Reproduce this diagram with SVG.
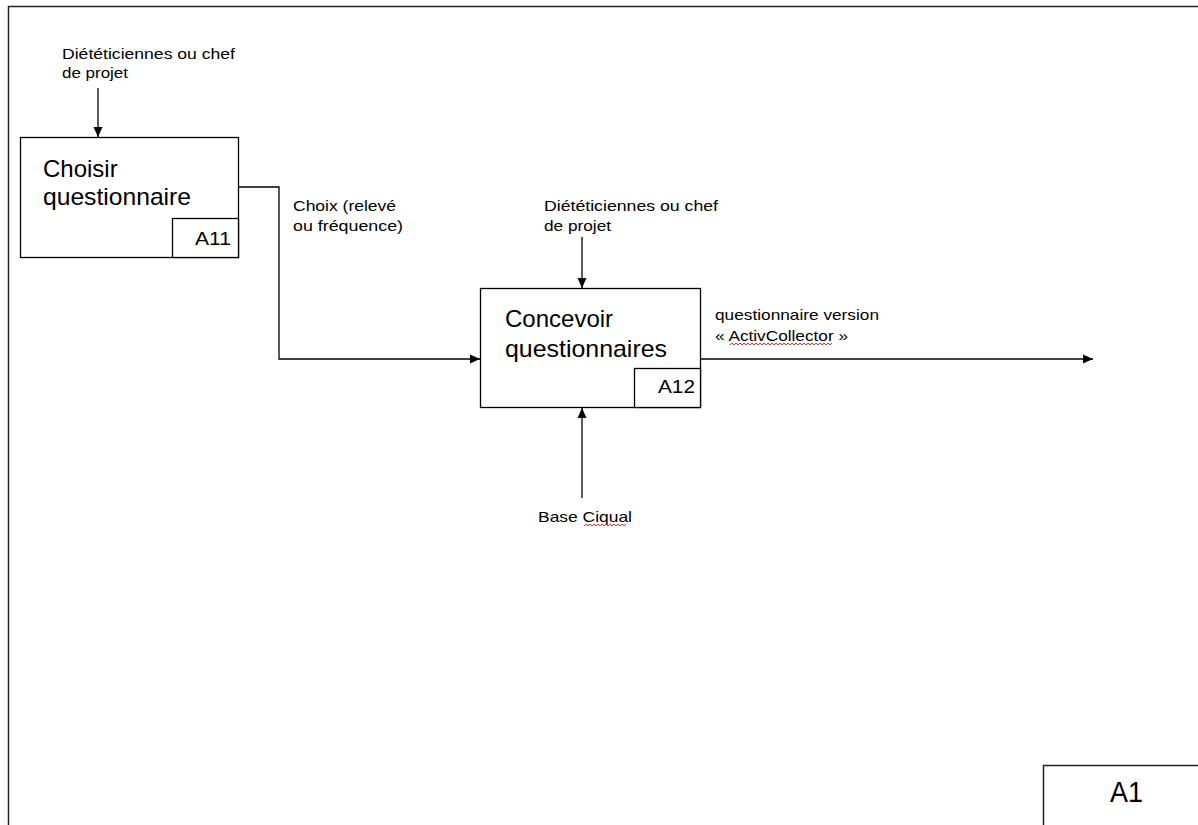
<svg xmlns="http://www.w3.org/2000/svg" width="1198" height="825" viewBox="0 0 1198 825">
  <style>
    .frame { fill: none; stroke: #222; stroke-width: 1.5; }
    .box { fill: #fff; stroke: #000; stroke-width: 1.3; }
    .wire { fill: none; stroke: #000; stroke-width: 1.3; }
    .lbl { font-family: "Liberation Sans", Arial, sans-serif; font-size: 14.5px; fill: #000; }
    .title { font-family: "Liberation Sans", Arial, sans-serif; font-size: 24px; fill: #000; }
    .num { font-family: "Liberation Sans", Arial, sans-serif; font-size: 19px; fill: #000; }
    .spell { fill: none; stroke: #e02020; stroke-width: 0.9; }
  </style>
  <defs>
    <marker id="arrow" viewBox="0 0 10 10" refX="10" refY="5" markerWidth="10" markerHeight="10" markerUnits="userSpaceOnUse" orient="auto">
      <path d="M0,0.5 L10,5 L0,9.5 Z" fill="#000"/>
    </marker>
  </defs>
  <rect width="1198" height="825" fill="#fff"/>

  <!-- page frame -->
  <path class="frame" d="M8.5,825 V6.5 H1198"/>

  <!-- connectors -->
  <g id="connectors">
    <line class="wire" x1="98" y1="88" x2="98" y2="137" marker-end="url(#arrow)"/>
    <polyline class="wire" points="239,187 279,187 279,359 480,359" marker-end="url(#arrow)"/>
    <line class="wire" x1="582" y1="237" x2="582" y2="288" marker-end="url(#arrow)"/>
    <line class="wire" x1="701" y1="359" x2="1093" y2="359" marker-end="url(#arrow)"/>
    <line class="wire" x1="582" y1="498" x2="582" y2="408" marker-end="url(#arrow)"/>

    <text class="lbl" x="62" y="59" textLength="173" lengthAdjust="spacingAndGlyphs">Diététiciennes ou chef</text>
    <text class="lbl" x="62" y="78" textLength="66" lengthAdjust="spacingAndGlyphs">de projet</text>

    <text class="lbl" x="293" y="211" textLength="103" lengthAdjust="spacingAndGlyphs">Choix (relevé</text>
    <text class="lbl" x="293" y="231" textLength="110" lengthAdjust="spacingAndGlyphs">ou fréquence)</text>

    <text class="lbl" x="544" y="211" textLength="174" lengthAdjust="spacingAndGlyphs">Diététiciennes ou chef</text>
    <text class="lbl" x="544" y="231" textLength="67" lengthAdjust="spacingAndGlyphs">de projet</text>

    <text class="lbl" x="715" y="320" textLength="164" lengthAdjust="spacingAndGlyphs">questionnaire version</text>
    <text class="lbl" x="715" y="341" textLength="133" lengthAdjust="spacingAndGlyphs">« ActivCollector »</text>
    <path class="spell" d="M730,345 l2,-2 l2,2 l2,-2 l2,2 l2,-2 l2,2 l2,-2 l2,2 l2,-2 l2,2 l2,-2 l2,2 l2,-2 l2,2 l2,-2 l2,2 l2,-2 l2,2 l2,-2 l2,2 l2,-2 l2,2 l2,-2 l2,2 l2,-2 l2,2 l2,-2 l2,2 l2,-2 l2,2 l2,-2 l2,2 l2,-2 l2,2 l2,-2 l2,2 l2,-2 l2,2 l2,-2 l2,2 l2,-2 l2,2 l2,-2 l2,2 l2,-2 l2,2 l2,-2 l2,2 l2,-2 l2,2 l2,-2"/>

    <text class="lbl" x="538" y="522" textLength="94" lengthAdjust="spacingAndGlyphs">Base Ciqual</text>
    <path class="spell" d="M584,526 l2,-2 l2,2 l2,-2 l2,2 l2,-2 l2,2 l2,-2 l2,2 l2,-2 l2,2 l2,-2 l2,2 l2,-2 l2,2 l2,-2 l2,2 l2,-2 l2,2 l2,-2 l2,2 l2,-2"/>
  </g>

  <!-- activity A11 -->
  <g id="node-A11">
    <rect class="box" x="20.5" y="137.5" width="218" height="120"/>
    <rect class="box" x="172.5" y="218.5" width="66" height="39"/>
    <text class="title" x="43" y="177">Choisir</text>
    <text class="title" x="43" y="205" textLength="148" lengthAdjust="spacingAndGlyphs">questionnaire</text>
    <text class="num" x="195" y="245" textLength="36" lengthAdjust="spacingAndGlyphs">A11</text>
  </g>

  <!-- activity A12 -->
  <g id="node-A12">
    <rect class="box" x="480.5" y="288.5" width="220" height="119"/>
    <rect class="box" x="634.5" y="368.5" width="66" height="39"/>
    <text class="title" x="505" y="327">Concevoir</text>
    <text class="title" x="505" y="357" textLength="162" lengthAdjust="spacingAndGlyphs">questionnaires</text>
    <text class="num" x="658" y="393" textLength="37" lengthAdjust="spacingAndGlyphs">A12</text>
  </g>

  <!-- diagram number -->
  <g id="node-A1">
    <path class="frame" d="M1043.5,825 V765.5 H1198"/>
    <text class="title" x="1110" y="802" style="font-size:29px" textLength="33" lengthAdjust="spacingAndGlyphs">A1</text>
  </g>
</svg>
